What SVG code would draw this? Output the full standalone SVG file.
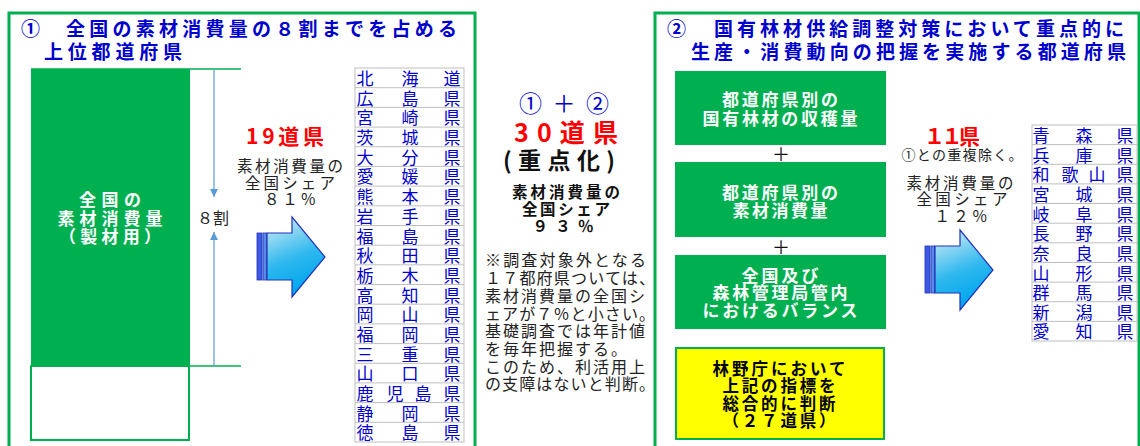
<svg xmlns="http://www.w3.org/2000/svg" width="1140" height="446" viewBox="0 0 1140 446">
<style>
text{font-family:"Noto Sans CJK JP","Liberation Sans",sans-serif}
.ttl{font-size:19px;font-weight:bold;fill:#0000CC}
.wb{font-size:17px;font-weight:bold;fill:#fff;text-anchor:middle}
.blk{font-size:15.5px;fill:#222;text-anchor:middle}
.red{font-weight:bold;fill:#FF0000;text-anchor:middle}
.lst{font-size:17px;fill:#0000CC;text-anchor:middle}
.note{font-size:16px;fill:#222}
.yb{font-size:16.5px;font-weight:bold;fill:#000;text-anchor:middle}
.panel{fill:none;stroke:#00B050;stroke-width:3}
.cell{fill:#fff;stroke:#BFBFBF;stroke-width:1}
</style>
<defs>
<linearGradient id="ag" x1="0" y1="0" x2="0.3" y2="1">
<stop offset="0" stop-color="#DDF0F6"/>
<stop offset="0.6" stop-color="#2EB8EE"/>
<stop offset="1" stop-color="#00A6EE"/>
</linearGradient>
<g id="barrow">
<rect x="0" y="16" width="5" height="47" fill="#3C5BE0" stroke="#2233BB" stroke-width="0.8"/>
<rect x="6" y="16" width="3.5" height="47" fill="#5A8AE8" stroke="#2233BB" stroke-width="0.8"/>
<path d="M10,16 H35 V0 L68,40 L35,80 V63 H10 Z" fill="url(#ag)" stroke="#2233BB" stroke-width="1.2"/>
</g>
<marker id="ah" viewBox="0 0 10 10" refX="10" refY="5" markerWidth="8" markerHeight="8" orient="auto-start-reverse" markerUnits="userSpaceOnUse">
<path d="M0,0 L10,5 L0,10 Z" fill="#5B9BD5"/>
</marker>
</defs>
<rect width="1140" height="446" fill="#fff"/>

<g id="panel1">
<rect class="panel" x="9" y="13" width="466" height="450"/>
<text class="ttl" x="21" y="36" font-size="20">①</text>
<text class="ttl" x="66" y="36" textLength="391" lengthAdjust="spacing">全国の素材消費量の８割までを占める</text>
<text class="ttl" x="44" y="59" textLength="138" lengthAdjust="spacing">上位都道府県</text>
</g>

<g id="bar">
<rect x="31" y="69" width="159" height="297" fill="#00B050"/>
<rect x="31" y="366" width="158" height="74" fill="#fff" stroke="#00B050" stroke-width="2"/>
<line x1="31" y1="69" x2="241" y2="69" stroke="#00B050" stroke-width="1.5"/>
<line x1="190" y1="366" x2="241" y2="366" stroke="#00B050" stroke-width="1.5"/>
<text class="wb" x="110" y="206" textLength="62" lengthAdjust="spacing">全国の</text>
<text class="wb" x="110" y="224.5" textLength="105" lengthAdjust="spacing">素材消費量</text>
<text class="wb" x="110" y="242.5" textLength="102" lengthAdjust="spacing">（製材用）</text>
<text x="213" y="224" font-size="16" fill="#222" text-anchor="middle" textLength="32" lengthAdjust="spacing">８割</text>
</g>

<g id="share1">
<text class="red" x="285" y="144" font-size="21" textLength="78" lengthAdjust="spacing">19道県</text>
<text class="blk" x="290" y="172" textLength="106" lengthAdjust="spacing">素材消費量の</text>
<text class="blk" x="290" y="188.5" textLength="90" lengthAdjust="spacing">全国シェア</text>
<text class="blk" x="290" y="205" textLength="52" lengthAdjust="spacing">８１％</text>
<use href="#barrow" x="257" y="217"/>
</g>

<g id="list1">
<rect class="cell" x="355" y="68" width="109" height="374"/>
<g stroke="#BFBFBF" stroke-width="1">
<line x1="355" x2="464" y1="87.7" y2="87.7"/><line x1="355" x2="464" y1="107.4" y2="107.4"/><line x1="355" x2="464" y1="127.1" y2="127.1"/><line x1="355" x2="464" y1="146.7" y2="146.7"/><line x1="355" x2="464" y1="166.4" y2="166.4"/><line x1="355" x2="464" y1="186.1" y2="186.1"/><line x1="355" x2="464" y1="205.8" y2="205.8"/><line x1="355" x2="464" y1="225.5" y2="225.5"/><line x1="355" x2="464" y1="245.2" y2="245.2"/><line x1="355" x2="464" y1="264.8" y2="264.8"/><line x1="355" x2="464" y1="284.5" y2="284.5"/><line x1="355" x2="464" y1="304.2" y2="304.2"/><line x1="355" x2="464" y1="323.9" y2="323.9"/><line x1="355" x2="464" y1="343.6" y2="343.6"/><line x1="355" x2="464" y1="363.3" y2="363.3"/><line x1="355" x2="464" y1="382.9" y2="382.9"/><line x1="355" x2="464" y1="402.6" y2="402.6"/><line x1="355" x2="464" y1="422.3" y2="422.3"/>
</g>
<g class="lst">
<text x="365" y="85">北</text><text x="410" y="85">海</text><text x="452" y="85">道</text>
<text x="365" y="104.7">広</text><text x="410" y="104.7">島</text><text x="452" y="104.7">県</text>
<text x="365" y="124.4">宮</text><text x="410" y="124.4">崎</text><text x="452" y="124.4">県</text>
<text x="365" y="144.1">茨</text><text x="410" y="144.1">城</text><text x="452" y="144.1">県</text>
<text x="365" y="163.7">大</text><text x="410" y="163.7">分</text><text x="452" y="163.7">県</text>
<text x="365" y="183.4">愛</text><text x="410" y="183.4">媛</text><text x="452" y="183.4">県</text>
<text x="365" y="203.1">熊</text><text x="410" y="203.1">本</text><text x="452" y="203.1">県</text>
<text x="365" y="222.8">岩</text><text x="410" y="222.8">手</text><text x="452" y="222.8">県</text>
<text x="365" y="242.5">福</text><text x="410" y="242.5">島</text><text x="452" y="242.5">県</text>
<text x="365" y="262.2">秋</text><text x="410" y="262.2">田</text><text x="452" y="262.2">県</text>
<text x="365" y="281.8">栃</text><text x="410" y="281.8">木</text><text x="452" y="281.8">県</text>
<text x="365" y="301.5">高</text><text x="410" y="301.5">知</text><text x="452" y="301.5">県</text>
<text x="365" y="321.2">岡</text><text x="410" y="321.2">山</text><text x="452" y="321.2">県</text>
<text x="365" y="340.9">福</text><text x="410" y="340.9">岡</text><text x="452" y="340.9">県</text>
<text x="365" y="360.6">三</text><text x="410" y="360.6">重</text><text x="452" y="360.6">県</text>
<text x="365" y="380.3">山</text><text x="410" y="380.3">口</text><text x="452" y="380.3">県</text>
<text x="365" y="399.9">鹿</text><text x="395" y="399.9">児</text><text x="423" y="399.9">島</text><text x="452" y="399.9">県</text>
<text x="365" y="419.6">静</text><text x="410" y="419.6">岡</text><text x="452" y="419.6">県</text>
<text x="365" y="439.3">徳</text><text x="410" y="439.3">島</text><text x="452" y="439.3">県</text>
</g>
</g>

<g id="connectors">
<line x1="214" y1="69" x2="214" y2="197" stroke="#5B9BD5" stroke-width="1.2" marker-end="url(#ah)"/>
<line x1="214" y1="366" x2="214" y2="232" stroke="#5B9BD5" stroke-width="1.2" marker-end="url(#ah)"/>
</g>

<g id="center">
<text x="564" y="112" font-size="23" fill="#0000CC" text-anchor="middle" textLength="90" lengthAdjust="spacing">①＋②</text>
<text class="red" x="566" y="142" font-size="25" textLength="104" lengthAdjust="spacing">30道県</text>
<text x="559" y="169" font-size="23" font-weight="bold" fill="#111" text-anchor="middle" textLength="112" lengthAdjust="spacing">(重点化)</text>
<text x="566" y="198" font-size="15.5" font-weight="bold" fill="#111" text-anchor="middle" textLength="108" lengthAdjust="spacing">素材消費量の</text>
<text x="566" y="214.5" font-size="15.5" font-weight="bold" fill="#111" text-anchor="middle" textLength="88" lengthAdjust="spacing">全国シェア</text>
<text x="563" y="231.5" font-size="15.5" font-weight="bold" fill="#111" text-anchor="middle" textLength="61" lengthAdjust="spacing">９３％</text>
<text class="note" x="485" y="265.5" textLength="161" lengthAdjust="spacing">※調査対象外となる</text>
<text class="note" x="485" y="283.5" textLength="170" lengthAdjust="spacing">１７都府県ついては、</text>
<text class="note" x="485" y="301.5" textLength="160" lengthAdjust="spacing">素材消費量の全国シ</text>
<text class="note" x="485" y="319.5" textLength="170" lengthAdjust="spacing">ェアが７％と小さい。</text>
<text class="note" x="485" y="337" textLength="160" lengthAdjust="spacing">基礎調査では年計値</text>
<text class="note" x="485" y="355" textLength="142" lengthAdjust="spacing">を毎年把握する。</text>
<text class="note" x="485" y="372.5" textLength="160" lengthAdjust="spacing">このため、利活用上</text>
<text class="note" x="485" y="390" textLength="170" lengthAdjust="spacing">の支障はないと判断。</text>
</g>

<g id="panel2">
<rect class="panel" x="655" y="13" width="484" height="450"/>
<text class="ttl" x="667" y="36" font-size="20">②</text>
<text class="ttl" x="714" y="36" textLength="410" lengthAdjust="spacing">国有林材供給調整対策において重点的に</text>
<text class="ttl" x="691" y="59" textLength="435" lengthAdjust="spacing">生産・消費動向の把握を実施する都道府県</text>
</g>

<g id="box1">
<rect x="675" y="71" width="211" height="74" fill="#00B050"/>
<text class="wb" x="780" y="106" textLength="116" lengthAdjust="spacing">都道府県別の</text>
<text class="wb" x="780" y="124.5" textLength="155" lengthAdjust="spacing">国有林材の収穫量</text>
</g>
<text x="781" y="161" font-size="18" fill="#111" text-anchor="middle">＋</text>
<g id="box2">
<rect x="675" y="162" width="211" height="75" fill="#00B050"/>
<text class="wb" x="780" y="199" textLength="116" lengthAdjust="spacing">都道府県別の</text>
<text class="wb" x="780" y="216.5" textLength="95" lengthAdjust="spacing">素材消費量</text>
</g>
<text x="781" y="254" font-size="18" fill="#111" text-anchor="middle">＋</text>
<g id="box3">
<rect x="675" y="255" width="211" height="74" fill="#00B050"/>
<text class="wb" x="780" y="281.5" textLength="77" lengthAdjust="spacing">全国及び</text>
<text class="wb" x="780" y="299" textLength="135" lengthAdjust="spacing">森林管理局管内</text>
<text class="wb" x="780" y="316.5" textLength="155" lengthAdjust="spacing">におけるバランス</text>
</g>
<g id="box4">
<rect x="676" y="348" width="208" height="91" fill="#FFFF00" stroke="#00B050" stroke-width="2"/>
<text class="yb" x="779" y="374.5" textLength="133" lengthAdjust="spacing">林野庁において</text>
<text class="yb" x="779" y="392" textLength="113" lengthAdjust="spacing">上記の指標を</text>
<text class="yb" x="779" y="409.5" textLength="113" lengthAdjust="spacing">総合的に判断</text>
<text class="yb" x="779" y="426.5" textLength="113" lengthAdjust="spacing">（２７道県）</text>
</g>

<g id="share2">
<text class="red" x="952" y="144" font-size="21" textLength="56" lengthAdjust="spacing">１１県</text>
<text x="962" y="159.5" font-size="14" fill="#222" text-anchor="middle" textLength="121" lengthAdjust="spacing">①との重複除く。</text>
<text class="blk" x="960" y="188.5" textLength="107" lengthAdjust="spacing">素材消費量の</text>
<text class="blk" x="962" y="205" textLength="91" lengthAdjust="spacing">全国シェア</text>
<text class="blk" x="961" y="221.5" textLength="53" lengthAdjust="spacing">１２％</text>
<use href="#barrow" x="925" y="230"/>
</g>

<g id="list2">
<rect class="cell" x="1032" y="125" width="105" height="216"/>
<g stroke="#BFBFBF" stroke-width="1">
<line x1="1032" x2="1137" y1="144.6" y2="144.6"/><line x1="1032" x2="1137" y1="164.3" y2="164.3"/><line x1="1032" x2="1137" y1="183.9" y2="183.9"/><line x1="1032" x2="1137" y1="203.5" y2="203.5"/><line x1="1032" x2="1137" y1="223.2" y2="223.2"/><line x1="1032" x2="1137" y1="242.8" y2="242.8"/><line x1="1032" x2="1137" y1="262.5" y2="262.5"/><line x1="1032" x2="1137" y1="282.1" y2="282.1"/><line x1="1032" x2="1137" y1="301.7" y2="301.7"/><line x1="1032" x2="1137" y1="321.4" y2="321.4"/>
</g>
<g class="lst">
<text x="1041" y="142">青</text><text x="1084" y="142">森</text><text x="1125" y="142">県</text>
<text x="1041" y="161.6">兵</text><text x="1084" y="161.6">庫</text><text x="1125" y="161.6">県</text>
<text x="1041" y="181.3">和</text><text x="1070" y="181.3">歌</text><text x="1097" y="181.3">山</text><text x="1125" y="181.3">県</text>
<text x="1041" y="200.9">宮</text><text x="1084" y="200.9">城</text><text x="1125" y="200.9">県</text>
<text x="1041" y="220.5">岐</text><text x="1084" y="220.5">阜</text><text x="1125" y="220.5">県</text>
<text x="1041" y="240.2">長</text><text x="1084" y="240.2">野</text><text x="1125" y="240.2">県</text>
<text x="1041" y="259.8">奈</text><text x="1084" y="259.8">良</text><text x="1125" y="259.8">県</text>
<text x="1041" y="279.5">山</text><text x="1084" y="279.5">形</text><text x="1125" y="279.5">県</text>
<text x="1041" y="299.1">群</text><text x="1084" y="299.1">馬</text><text x="1125" y="299.1">県</text>
<text x="1041" y="318.7">新</text><text x="1084" y="318.7">潟</text><text x="1125" y="318.7">県</text>
<text x="1041" y="338.4">愛</text><text x="1084" y="338.4">知</text><text x="1125" y="338.4">県</text>
</g>
</g>
</svg>
